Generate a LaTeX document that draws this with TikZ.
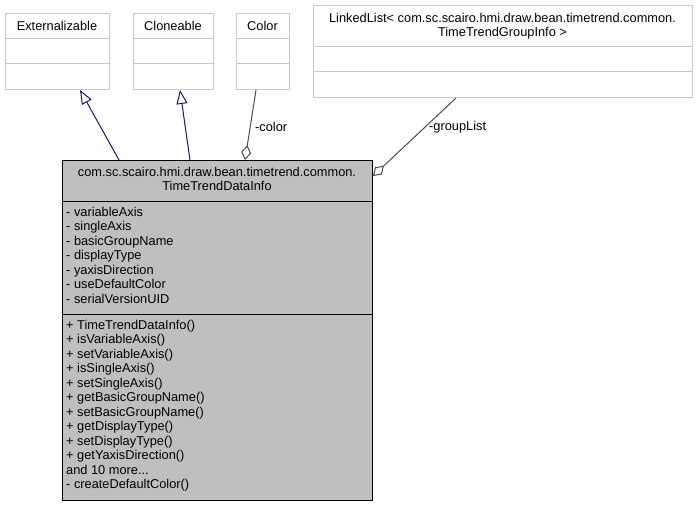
\documentclass[tikz,border=0pt]{standalone}
\usepackage{fontspec}
\setmainfont{Liberation Sans}
\usetikzlibrary{arrows.meta}

\definecolor{navyline}{RGB}{25,25,112}
\definecolor{greyline}{RGB}{200,200,200}
\definecolor{infofill}{RGB}{191,191,191}

\tikzset{
  uml/.style={font=\fontsize{12.8}{14.5}\selectfont, inner sep=0pt},
  classbox/.style={draw=greyline, fill=white, line width=1pt, anchor=north west, inner sep=0pt},
  infobox/.style={draw=black, fill=infofill, line width=1pt, anchor=north west, inner sep=0pt},
  inherit/.style={draw=navyline, line width=1pt, -{Triangle[open, fill=white, length=14pt, width=11pt]}},
  aggr/.style={draw=black!70, line width=1pt, -{Diamond[open, fill=white, length=15pt, width=10pt]}},
}

\begin{document}
\begin{tikzpicture}[x=1pt, y=-1pt]
    \useasboundingbox (0,0) rectangle (697,507);

    % Externalizable
    \node[classbox, minimum width=104pt, minimum height=76pt] (ext) at (5,13) {};
    \draw[greyline, line width=1pt] ([yshift=-25pt]ext.north west) -- ([yshift=-25pt]ext.north east);
    \draw[greyline, line width=1pt] ([yshift=-50pt]ext.north west) -- ([yshift=-50pt]ext.north east);
    \node[uml] (extname) at (57,25.5) {Externalizable};

    % Cloneable
    \node[classbox, minimum width=80pt, minimum height=76pt] (clo) at (133,13) {};
    \draw[greyline, line width=1pt] ([yshift=-25pt]clo.north west) -- ([yshift=-25pt]clo.north east);
    \draw[greyline, line width=1pt] ([yshift=-50pt]clo.north west) -- ([yshift=-50pt]clo.north east);
    \node[uml] (cloname) at (173,25.5) {Cloneable};

    % Color
    \node[classbox, minimum width=53pt, minimum height=76pt] (col) at (236,13) {};
    \draw[greyline, line width=1pt] ([yshift=-25pt]col.north west) -- ([yshift=-25pt]col.north east);
    \draw[greyline, line width=1pt] ([yshift=-50pt]col.north west) -- ([yshift=-50pt]col.north east);
    \node[uml] (colname) at (262.5,25.5) {Color};

    % LinkedList
    \node[classbox, minimum width=379pt, minimum height=92pt] (list) at (313,5) {};
    \draw[greyline, line width=1pt] ([yshift=-41pt]list.north west) -- ([yshift=-41pt]list.north east);
    \draw[greyline, line width=1pt] ([yshift=-66pt]list.north west) -- ([yshift=-66pt]list.north east);
    \node[uml, align=center] (listname) at (502.5,26)
        {LinkedList< com.sc.scairo.hmi.draw.bean.timetrend.common.\\TimeTrendGroupInfo >};

    % TimeTrendDataInfo
    \node[infobox, minimum width=310pt, minimum height=340pt] (info) at (62,160) {};
    \draw[line width=1pt] ([yshift=-41pt]info.north west) -- ([yshift=-41pt]info.north east);
    \draw[line width=1pt] ([yshift=-154pt]info.north west) -- ([yshift=-154pt]info.north east);
    \node[uml, align=center, anchor=north] (infoname) at (217,167)
        {com.sc.scairo.hmi.draw.bean.timetrend.common.\\TimeTrendDataInfo};
    \node[uml, align=left, anchor=north west] (infoattr) at (66,206.7)
        {- variableAxis\\- singleAxis\\- basicGroupName\\- displayType\\- yaxisDirection\\- useDefaultColor\\- serialVersionUID};
    \node[uml, align=left, anchor=north west] (infoops) at (66,319.6)
        {+ TimeTrendDataInfo()\\+ isVariableAxis()\\+ setVariableAxis()\\+ isSingleAxis()\\+ setSingleAxis()\\+ getBasicGroupName()\\+ setBasicGroupName()\\+ getDisplayType()\\+ setDisplayType()\\+ getYaxisDirection()\\and 10 more...\\- createDefaultColor()};

    % Connectors
    \draw[inherit] ([xshift=57pt]info.north west) -- ([xshift=75pt]ext.south west);
    \draw[inherit] ([xshift=128pt]info.north west) -- ([xshift=47pt]clo.south west);
    \draw[aggr] ([xshift=20pt]col.south west) -- ([xshift=183pt]info.north west);
    \draw[aggr] ([xshift=143pt]list.south west) -- ([yshift=-16pt]info.north east);
    \node[uml, anchor=west] (colorlbl) at (255,127) {-color};
    \node[uml, anchor=west] (grouplbl) at (429,127) {-groupList};
\end{tikzpicture}
\end{document}
